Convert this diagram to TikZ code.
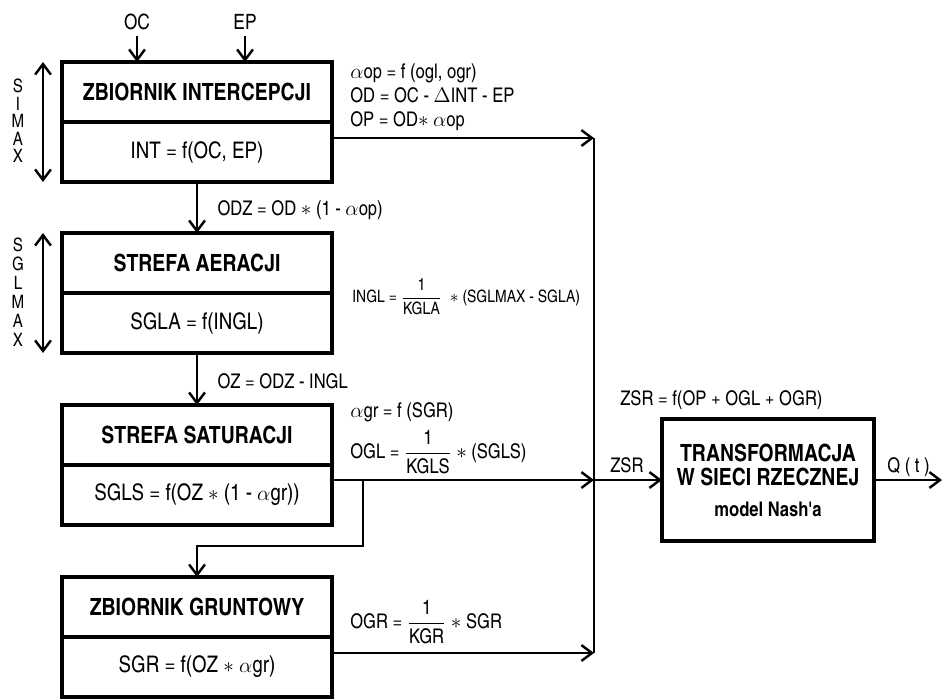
\documentclass[tikz,border=0pt]{standalone}
\usepackage{amsmath}
\usepackage{fontspec}
\setmainfont{texgyreheroscn}[Extension=.otf, UprightFont=*-regular, BoldFont=*-bold, ItalicFont=*-italic, BoldItalicFont=*-bolditalic]
\usetikzlibrary{positioning, arrows.meta}
\tikzset{box/.style={draw, line width=1.8pt, minimum width=5.4cm, minimum height=1.2cm, inner sep=0pt, outer sep=0pt}}
\tikzset{boxhead/.style={box, font=\bfseries\fontsize{13.5}{15}\selectfont}}
\tikzset{boxbody/.style={box, font=\fontsize{13}{15}\selectfont}}
\tikzset{arr/.style={draw, line width=1.4pt, -{Straight Barb[length=6pt, width=9pt, line width=1.4pt]}}}
\tikzset{arr2/.style={draw, line width=1.4pt, {Straight Barb[length=6pt, width=9pt, line width=1.4pt]}-{Straight Barb[length=6pt, width=9pt, line width=1.4pt]}}}
\tikzset{lbl/.style={anchor=west, inner sep=0pt, font=\fontsize{11.5}{13.6}\selectfont}}
\tikzset{vchar/.style={inner sep=0pt, font=\fontsize{10.5}{11}\selectfont}}

\begin{document}
\begin{tikzpicture}[x=0.02cm, y=-0.02cm]
	\useasboundingbox (0,0) rectangle (942,698);
	% four reservoirs, one under the other
	\node[boxhead] (intc) at (197,92) {ZBIORNIK INTERCEPCJI};
	\node[boxbody, below=0pt of intc] (intcf) {INT = f(OC, EP)};
	\node[boxhead] (aer) at (197,263) {STREFA AERACJI};
	\node[boxbody, below=0pt of aer] (aerf) {SGLA = f(INGL)};
	\node[boxhead] (sat) at (197,435) {STREFA SATURACJI};
	\node[boxbody, below=0pt of sat] (satf) {SGLS = f(OZ $\ast$ (1 - $\alpha$gr))};
	\node[boxhead] (grd) at (197,607) {ZBIORNIK GRUNTOWY};
	\node[boxbody, below=0pt of grd] (grdf) {SGR = f(OZ $\ast$ $\alpha$gr)};
	\node[box, minimum width=4.24cm, minimum height=2.44cm, align=center, font=\bfseries\fontsize{13.5}{13.6}\selectfont] (nash) at (768,480)
		{TRANSFORMACJA\\W SIECI RZECZNEJ\\[4pt]{\fontsize{11.5}{13}\selectfont model Nash\textquotesingle a}};
	%
	\node[font=\fontsize{12}{14}\selectfont] (oc) at (137,22) {OC};
	\node[font=\fontsize{12}{14}\selectfont] (ep) at (245,22) {EP};
	\draw[arr] (oc) -- (oc |- intc.north);
	\draw[arr] (ep) -- (ep |- intc.north);
	\foreach \c [count=\i] in {S,I,M,A,X}
		\node[vchar] (simax\i) at (18,{68.5+17.5*\i}) {\c};
	\foreach \c [count=\i] in {S,G,L,M,A,X}
		\node[vchar] (sglmax\i) at (18,{226+19*\i}) {\c};
	\coordinate (sa) at (43,0);
	\draw[arr2] (sa |- intc.north) -- (sa |- intcf.south);
	\draw[arr2] (sa |- aer.north) -- (sa |- aerf.south);
	%
	\draw[arr] (intcf) -- (aer) node[lbl, pos=0.55, xshift=11pt] (odz) {ODZ = OD $\ast$ (1 - $\alpha$op)};
	\draw[arr] (aerf) -- (sat) node[lbl, pos=0.55, xshift=11pt] (oz) {OZ = ODZ - INGL};
	\coordinate (brk) at (363,546);
	\coordinate (jop) at (594,138);
	\coordinate (jgl) at (594,480);
	\coordinate (jgr) at (594,653);
	\coordinate (qout) at (942,480);
	\draw[arr] (intcf.east |- jop) -- (jop);
	\draw[arr] (satf.east |- jgl) -- (jgl);
	\draw[arr] (grdf.east |- jgr) -- (jgr);
	\draw[line width=1.4pt] (jop) -- (jgr);
	\draw[arr] (brk |- jgl) -- (brk) -| (grd.north);
	\draw[arr] (jgl) -- (nash.west |- jgl);
	\draw[arr] (nash.east |- qout) -- (qout);
	%
	\node[lbl, align=left] (opf) at (350,97) {$\alpha$op = f (ogl, ogr)\\OD = OC - $\Delta$INT - EP\\OP = OD$\ast$ $\alpha$op};
	\node[lbl, font=\fontsize{9.7}{11}\selectfont] (ingl) at (352,297) {INGL = $\dfrac{\text{1}}{\text{KGLA}}$ \ $\ast$ (SGLMAX - SGLA)};
	\node[lbl] (agr) at (350,412) {$\alpha$gr = f (SGR)};
	\node[lbl] (ogl) at (350,452) {OGL = $\dfrac{\text{1}}{\text{KGLS}}$ $\ast$ (SGLS)};
	\node[lbl] (ogr) at (350,622) {OGR = $\dfrac{\text{1}}{\text{KGR}}$ $\ast$ SGR};
	\node[lbl] (zsrf) at (620,400) {ZSR = f(OP + OGL + OGR)};
	\node[lbl] (zsr) at (610,465) {ZSR};
	\node[lbl] (qt) at (887,467) {Q ( t )};
\end{tikzpicture}
\end{document}
